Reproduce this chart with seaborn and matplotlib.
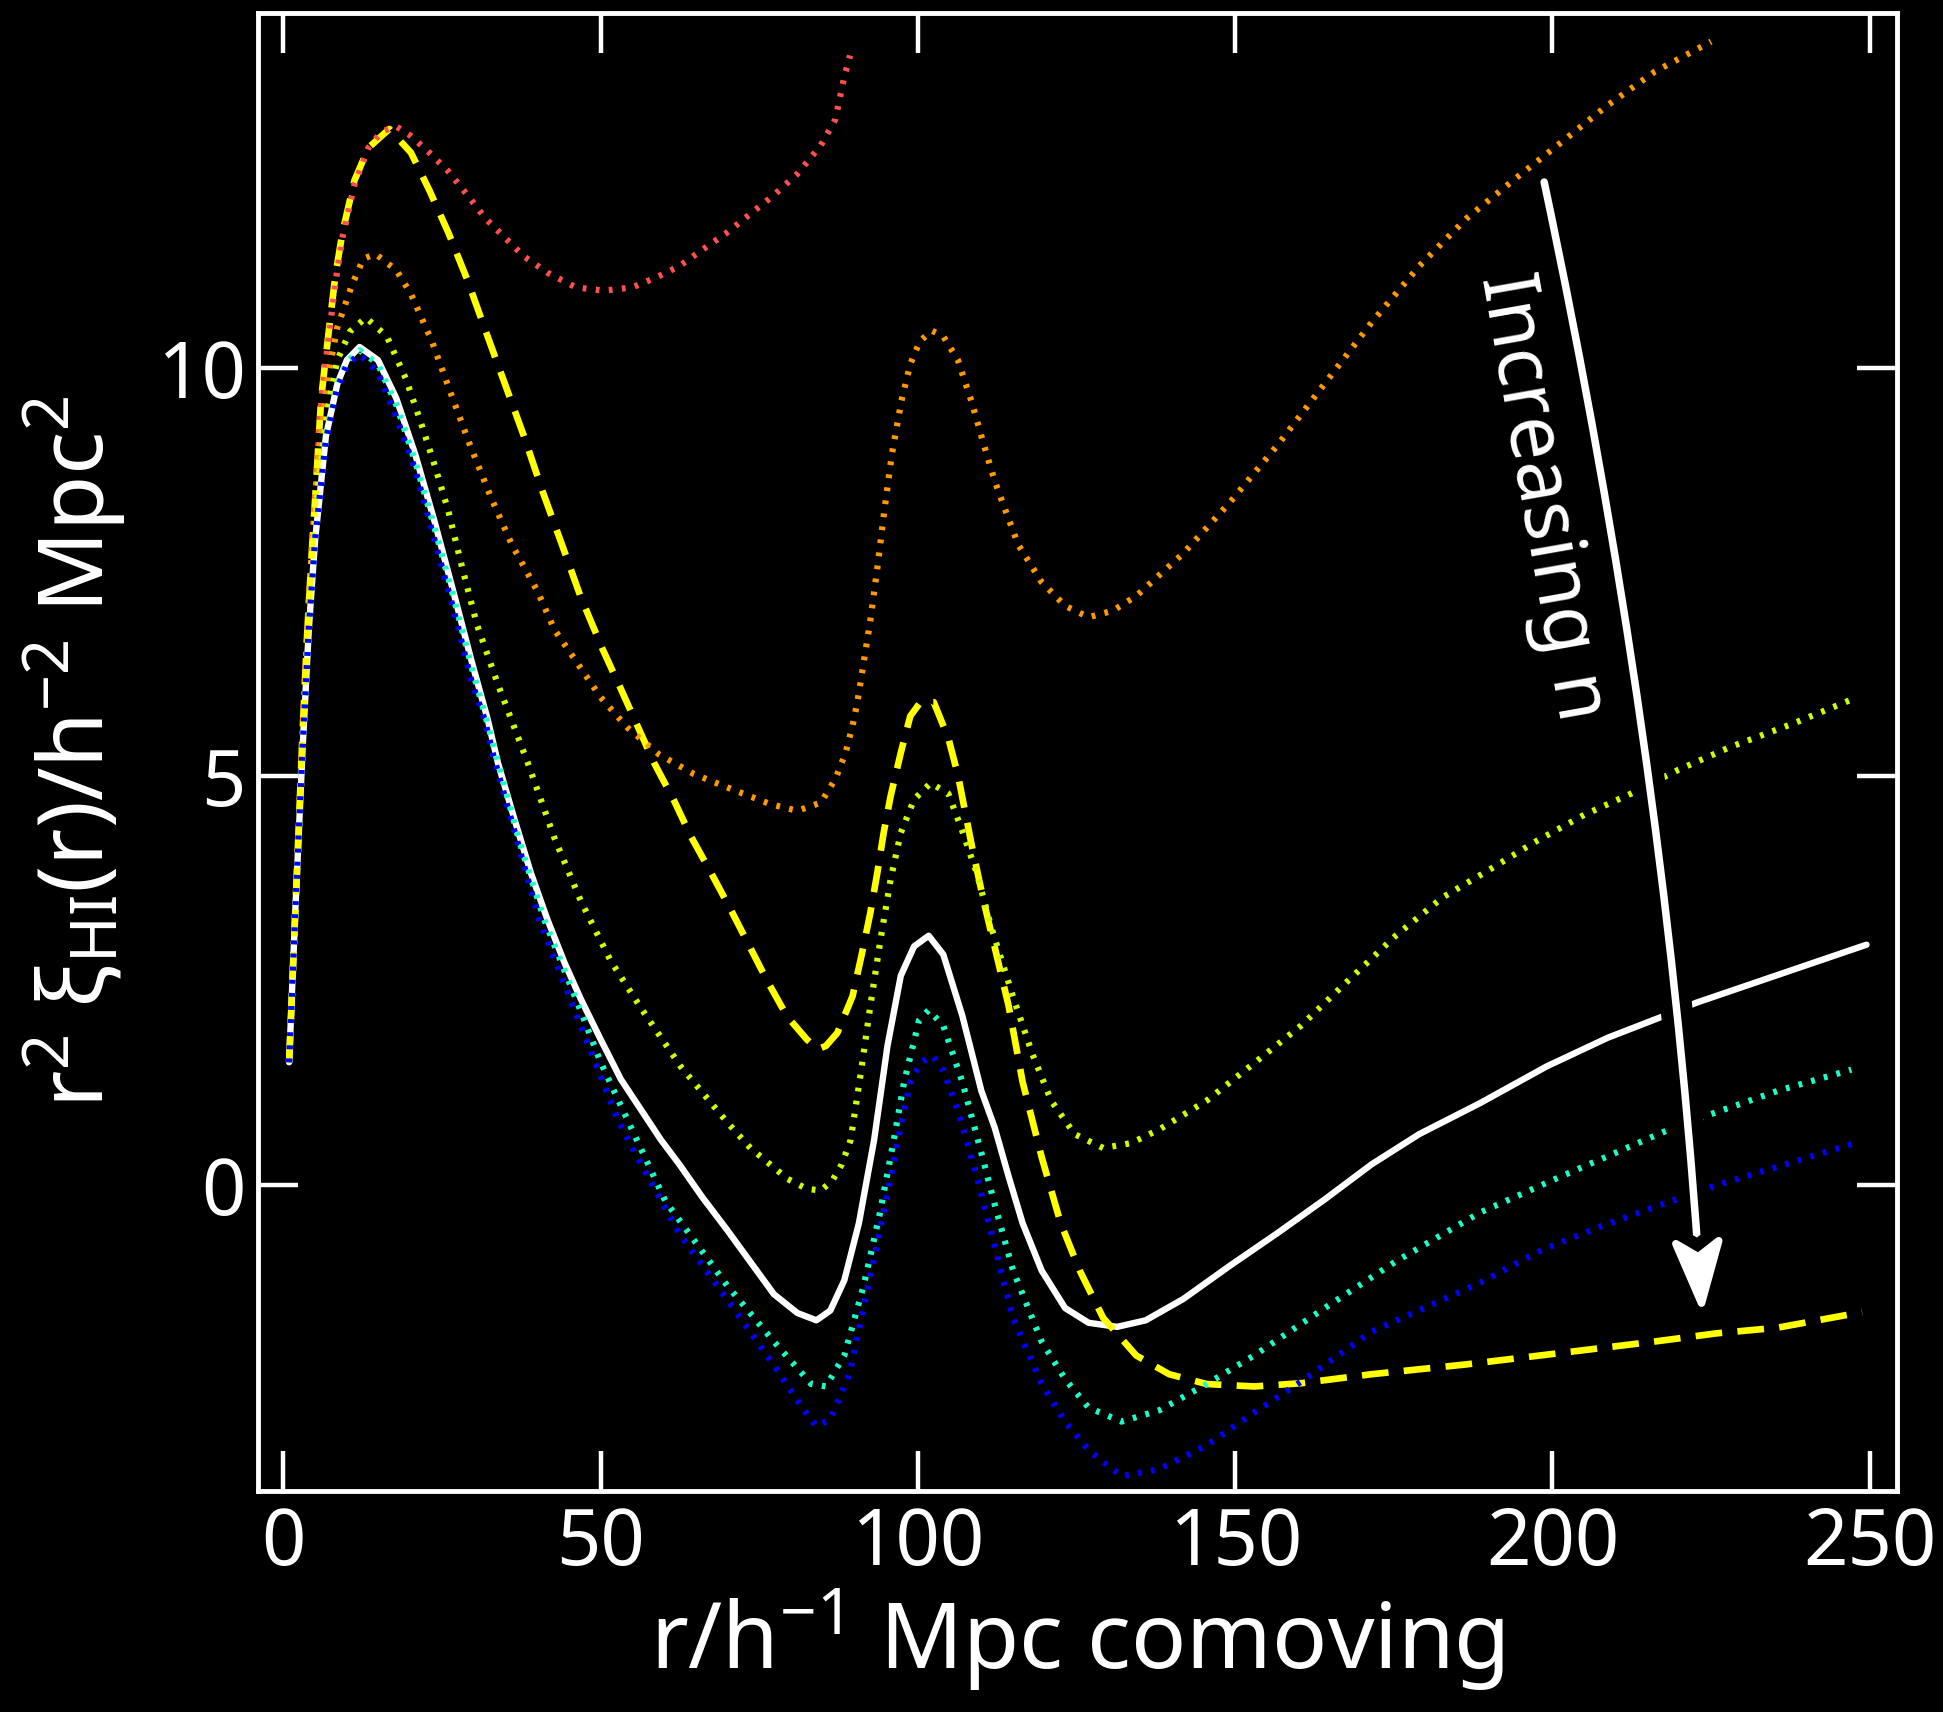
import numpy as np
import pandas as pd
import matplotlib
matplotlib.use("Agg")
import matplotlib.pyplot as plt
import matplotlib.patheffects as pe
from matplotlib.patches import ArrowStyle
from matplotlib.path import Path
import seaborn as sns

# ---------------- data ----------------
r_white = [0.9, 1.9, 3.0, 4.0, 5.0, 6.7, 8.5, 10.0, 12.0, 14.9, 17.8, 20.8, 23.8, 26.8, 29.7, 32.2,
           33.8, 36.4, 39.0, 41.6, 44.3, 46.9, 50.0, 53.2, 59.5, 62.4, 66.0, 69.9, 77.3, 81.0, 84.0,
           86.2, 88.4, 90.7, 93.1, 95.2, 97.3, 99.4, 101.7, 104.0, 107.0, 110.0, 112.1, 114.3, 116.5,
           119.5, 123.2, 126.9, 131.4, 135.9, 141.8, 149.2, 156.7, 164.1, 171.5, 179.0, 188.6, 199.1,
           208.7, 217.0, 222.7, 235.9, 249.5]
y_white = [1.5, 3.4, 5.3, 6.8, 7.9, 9.17, 9.81, 10.10, 10.26, 10.10, 9.63, 8.94, 8.13, 7.26, 6.40, 5.70,
           5.17, 4.48, 3.82, 3.25, 2.72, 2.27, 1.78, 1.29, 0.55, 0.25, -0.15, -0.55, -1.34, -1.57, -1.66,
           -1.54, -1.17, -0.47, 0.55, 1.70, 2.56, 2.92, 3.05, 2.82, 2.07, 1.15, 0.70, 0.10, -0.47,
           -1.05, -1.51, -1.69, -1.74, -1.66, -1.40, -0.99, -0.59, -0.18, 0.25, 0.62, 1.00, 1.45,
           1.80, 2.05, 2.23, 2.58, 2.94]

r_yellow = [0.9, 1.9, 3.0, 3.7, 4.46, 5.2, 5.95, 6.7, 7.4, 8.2, 9.3, 11.2, 13.4, 16.7, 20.1, 23.0, 26.0,
            29.0, 31.9, 34.9, 37.9, 40.9, 43.9, 46.8, 50.3, 53.2, 55.8, 58.4, 61.6, 64.2, 67.4, 70.5,
            73.6, 76.3, 79.4, 82.5, 84.2, 85.5, 87.3, 89.7, 91.2, 92.5, 93.6, 94.6, 95.7, 97.3, 98.8,
            100.4, 102.5, 104.8, 106.3, 108.5, 110.4, 112.1, 114.3, 116.5, 119.5, 122.5, 125.5, 129.2,
            134.4, 139.6, 145.5, 153.0, 160.4, 171.5, 186.4, 201.3, 216.1, 225.8, 235.5, 248.8]
y_yellow = [1.5, 3.4, 5.5, 6.68, 7.73, 8.65, 9.63, 10.15, 10.62, 11.14, 11.66, 12.3, 12.7, 12.93, 12.64,
            12.18, 11.66, 11.08, 10.45, 9.81, 9.17, 8.48, 7.84, 7.21, 6.56, 6.07, 5.62, 5.17, 4.70, 4.27,
            3.82, 3.37, 2.90, 2.49, 2.06, 1.78, 1.66, 1.70, 1.86, 2.31, 2.84, 3.33, 3.82, 4.31, 4.76,
            5.29, 5.74, 5.91, 5.91, 5.47, 5.02, 4.15, 3.46, 2.91, 2.19, 1.26, 0.34, -0.47, -1.05, -1.63,
            -2.09, -2.32, -2.44, -2.47, -2.43, -2.32, -2.20, -2.06, -1.92, -1.82, -1.75, -1.56]

r_red = [0.9, 1.9, 3.0, 3.7, 4.46, 5.2, 5.95, 6.7, 7.4, 8.2, 9.3, 11.2, 13.4, 15.5, 17.8, 20.0, 23.0, 26.0,
         29.0, 31.9, 34.9, 37.9, 41.6, 46.1, 50.5, 55.0, 58.7, 62.4, 66.2, 69.9, 73.6, 77.3, 81.0, 84.7,
         87.0, 88.4, 89.3]
y_red = [1.5, 3.4, 5.5, 6.68, 7.73, 8.65, 9.6, 10.1, 10.55, 11.05, 11.6, 12.25, 12.7, 12.9, 12.96, 12.85,
         12.64, 12.41, 12.12, 11.83, 11.60, 11.37, 11.17, 10.99, 10.95, 10.99, 11.11, 11.25, 11.46, 11.66,
         11.89, 12.12, 12.38, 12.73, 13.05, 13.57, 13.83]

r_orange = [0.9, 1.9, 3.0, 4.0, 5.5, 7.0, 8.5, 10.8, 12.6, 14.5, 17.8, 20.1, 23.4, 26.4, 29.4, 32.7, 36.0,
            40.1, 42.7, 46.4, 50.0, 54.2, 59.2, 64.7, 70.8, 76.8, 81.0, 84.7, 87.0, 88.6, 89.7, 90.5,
            91.5, 92.5, 93.6, 94.7, 95.9, 97.4, 98.8, 100.3, 102.2, 104.0, 106.3, 108.5, 110.4, 112.1,
            113.6, 115.8, 119.5, 123.2, 126.9, 130.7, 134.4, 141.8, 149.2, 156.7, 164.1, 171.5, 179.0,
            186.4, 193.8, 201.3, 208.7, 216.1, 225.0]
y_orange = [1.5, 3.4, 5.4, 7.2, 8.9, 9.9, 10.5, 11.02, 11.34, 11.40, 11.2, 10.91, 10.33, 9.69, 9.06, 8.42,
            7.84, 7.26, 6.80, 6.38, 5.97, 5.60, 5.27, 5.03, 4.84, 4.66, 4.58, 4.68, 4.97, 5.29, 5.62, 5.93,
            6.42, 6.91, 7.55, 8.25, 8.95, 9.60, 10.05, 10.33, 10.46, 10.39, 10.10, 9.58, 9.06, 8.62,
            8.30, 7.84, 7.38, 7.09, 6.95, 7.03, 7.21, 7.73, 8.36, 9.06, 9.81, 10.56, 11.25, 11.83,
            12.30, 12.76, 13.22, 13.63, 14.0]

r_green = [0.9, 1.9, 3.0, 4.0, 5.5, 7.0, 8.5, 10.5, 13.0, 16.3, 19.3, 21.6, 23.8, 26.0, 28.2, 30.5, 33.8,
           38.5, 42.7, 46.9, 51.6, 56.3, 62.6, 70.0, 73.6, 79.5, 82.5, 84.7, 86.5, 88.0, 89.4, 91.0, 92.5,
           94.1, 95.7, 97.3, 99.4, 102.0, 104.8, 107.0, 109.3, 111.5, 115.0, 118.0, 121.0, 124.7, 129.2,
           133.6, 138.1, 145.5, 153.0, 160.4, 167.8, 175.3, 182.7, 190.1, 197.5, 205.0, 212.4, 219.8,
           228.0, 238.0, 247.7]
y_green = [1.5, 3.4, 5.3, 7.0, 8.6, 9.5, 10.1, 10.45, 10.62, 10.39, 9.87, 9.35, 8.82, 8.25, 7.55, 6.86,
           6.13, 5.17, 4.25, 3.47, 2.74, 2.17, 1.45, 0.76, 0.45, 0.07, -0.05, -0.07, 0.05, 0.25, 0.55, 1.37,
           2.19, 3.00, 3.74, 4.31, 4.72, 4.92, 4.79, 4.33, 3.81, 3.17, 2.30, 1.61, 1.03, 0.62, 0.45, 0.51,
           0.68, 1.03, 1.49, 1.95, 2.50, 3.05, 3.52, 3.86, 4.21, 4.53, 4.79, 5.08, 5.36, 5.65, 5.96]

r_cyan = [0.9, 1.9, 3.0, 4.0, 5.0, 6.7, 8.5, 10.0, 12.0, 14.9, 17.8, 20.8, 23.8, 26.8, 29.7, 32.7, 37.2,
          41.1, 43.9, 47.0, 50.0, 54.2, 60.2, 69.9, 77.3, 83.2, 85.5, 88.4, 91.4, 94.0, 96.2, 97.8, 100.2,
          101.7, 104.0, 107.0, 110.0, 112.1, 115.0, 119.5, 123.2, 126.9, 132.1, 138.1, 145.5, 153.0,
          164.1, 175.3, 188.6, 201.3, 218.5, 224.8, 235.5, 247.1]
y_cyan = [1.5, 3.4, 5.3, 6.8, 7.9, 9.15, 9.79, 10.08, 10.22, 10.05, 9.55, 8.85, 8.05, 7.2, 6.33, 5.50, 4.2,
          3.25, 2.70, 2.10, 1.50, 0.80, -0.20, -1.23, -1.92, -2.44, -2.47, -2.09, -1.25, -0.35, 0.55, 1.25,
          2.02, 2.14, 1.95, 1.26, 0.39, -0.24, -1.05, -1.92, -2.38, -2.73, -2.90, -2.76, -2.44, -2.09,
          -1.51, -0.94, -0.34, 0.10, 0.68, 0.86, 1.15, 1.41]

r_blue = [0.9, 1.9, 3.0, 4.0, 5.0, 6.7, 8.5, 10.0, 12.0, 14.9, 17.8, 20.8, 23.8, 26.8, 29.7, 31.7, 33.1,
          40.3, 47.6, 52.7, 55.0, 62.4, 69.9, 77.3, 81.8, 84.0, 86.2, 89.2, 92.2, 95.1, 97.3, 98.8, 100.5,
          102.3, 104.0, 106.3, 109.3, 112.1, 115.0, 119.5, 123.2, 126.9, 132.1, 138.1, 145.5, 153.0,
          160.4, 171.5, 188.6, 198.3, 208.0, 218.0, 226.1, 235.5, 248.5]
y_blue = [1.5, 3.4, 5.3, 6.8, 7.9, 9.12, 9.76, 10.04, 10.17, 9.95, 9.4, 8.75, 7.9, 7.05, 6.15, 5.70, 5.25,
          3.25, 1.80, 0.80, 0.45, -0.60, -1.40, -2.21, -2.73, -2.96, -2.87, -2.32, -1.23, -0.15, 0.72,
          1.25, 1.50, 1.58, 1.40, 0.91, 0.10, -0.75, -1.63, -2.44, -2.90, -3.25, -3.57, -3.48, -3.19,
          -2.79, -2.41, -1.80, -1.20, -0.80, -0.50, -0.22, 0.00, 0.22, 0.53]

series_names = ["white", "yellow", "red", "orange", "green", "cyan", "blue"]
series_r = [r_white, r_yellow, r_red, r_orange, r_green, r_cyan, r_blue]
series_y = [y_white, y_yellow, y_red, y_orange, y_green, y_cyan, y_blue]

x_ticks = [0, 50, 100, 150, 200, 250]
y_ticks = [0, 5, 10]

# ---------------- styles ----------------
palette = {"white": "#ffffff", "yellow": "#ffff00", "red": "#ff5050", "orange": "#ff9900",
           "green": "#ccff00", "cyan": "#1affc8", "blue": "#0000ff"}
dot = (0.6, 1.5)
dashes = {"white": "", "yellow": (4.0, 2.3), "red": dot, "orange": dot, "green": dot,
          "cyan": dot, "blue": dot}
sizes = {"white": 4.6, "yellow": 4.8, "red": 4.5, "orange": 4.5, "green": 4.5, "cyan": 4.5, "blue": 4.5}

frames = [pd.DataFrame({"r": r, "y": y, "series": n}) for n, r, y in zip(series_names, series_r, series_y)]
df = pd.concat(frames, ignore_index=True)


class NotchedHead(ArrowStyle._Base):
    """Line with a notched (stealth-like) filled arrow head at the end."""

    def __init__(self, head_length=4.4, head_width=1.55, notch=1.05):
        self.head_length, self.head_width, self.notch = head_length, head_width, notch
        super().__init__()

    def transmute(self, path, mutation_size, linewidth):
        verts = np.asarray(path.vertices, dtype=float).copy()
        x1, y1 = verts[-1]
        x0, y0 = verts[-2]
        d = np.hypot(x1 - x0, y1 - y0)
        ux, uy = (x1 - x0) / d, (y1 - y0) / d
        px, py = -uy, ux
        hl = self.head_length * mutation_size
        hw = self.head_width * mutation_size
        nt = self.notch * mutation_size
        bx, by = x1 - ux * hl, y1 - uy * hl
        nx, ny = x1 - ux * (hl - nt), y1 - uy * (hl - nt)
        head = Path([(x1, y1), (bx + px * hw, by + py * hw), (nx, ny),
                     (bx - px * hw, by - py * hw), (x1, y1)],
                    [Path.MOVETO, Path.LINETO, Path.LINETO, Path.LINETO, Path.CLOSEPOLY])
        verts[-1] = (nx, ny)
        shaft = Path(verts, path.codes)
        return [shaft, head], [False, True]


sns.set_style("ticks")
plt.rcParams["font.family"] = ["Noto Sans", "DejaVu Sans"]
plt.rcParams["mathtext.fontset"] = "custom"
plt.rcParams["mathtext.rm"] = "Noto Sans"
plt.rcParams["mathtext.it"] = "Noto Sans:italic"
plt.rcParams["mathtext.bf"] = "Noto Sans:bold"
plt.rcParams["lines.dash_capstyle"] = "butt"

fig = plt.figure(figsize=(19.43, 17.12), dpi=100, facecolor="black")
ax = fig.add_axes([0.1328, 0.1291, 0.8435, 0.8633])
ax.set_facecolor("black")

sns.lineplot(data=df, x="r", y="y", hue="series", style="series", size="series",
             hue_order=series_names, style_order=series_names, size_order=series_names,
             palette=palette, dashes=dashes, sizes=sizes, estimator=None, sort=False,
             legend=False, ax=ax)

ax.set_xlim(-4, 254.3)
ax.set_ylim(-3.75, 14.35)
ax.set_xticks(x_ticks)
ax.set_yticks(y_ticks)
ax.tick_params(axis="both", which="major", direction="in", length=29, width=3.2,
               colors="white", labelcolor="white", labelsize=56, top=True, right=True)
ax.tick_params(axis="x", pad=10)
ax.tick_params(axis="y", pad=9)
for s in ax.spines.values():
    s.set_color("white")
    s.set_linewidth(3.5)

ax.set_xlabel(r"r/h$^{-1}$ Mpc comoving", color="white", fontsize=66, labelpad=2)
ax.set_ylabel(r"r$^2$ ξ$_{\rm HI}$(r)/h$^{-2}$ Mpc$^2$", color="white", fontsize=65, labelpad=20)

ax.annotate("", xy=(223.5, -1.45), xytext=(198.7, 12.28),
            arrowprops=dict(arrowstyle=NotchedHead(), mutation_scale=10,
                            lw=5.4, color="white", shrinkA=0, shrinkB=0,
                            connectionstyle="arc3,rad=-0.035",
                            path_effects=[pe.Stroke(linewidth=23, foreground="black"), pe.Normal()]),
            zorder=5)
ax.text(198.2, 8.42, "Increasing n", rotation=-80, ha="center", va="center",
        rotation_mode="anchor", color="white", fontsize=56, zorder=6)

fig.savefig("out.png", dpi=100, facecolor="black")
